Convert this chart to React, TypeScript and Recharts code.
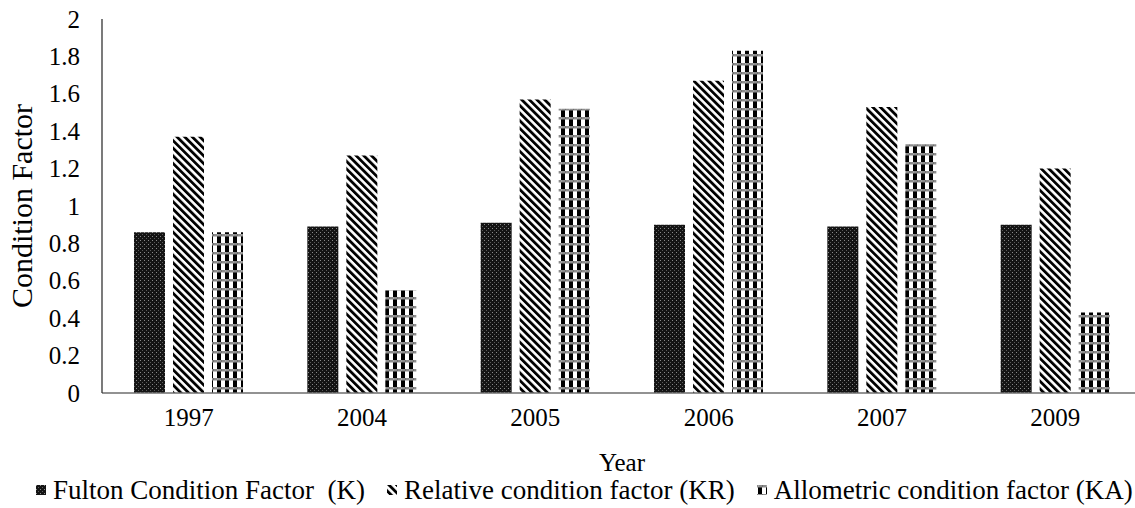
import { BarChart, Bar, XAxis, YAxis } from 'recharts';

const years = ['1997', '2004', '2005', '2006', '2007', '2009'];
const fulton = [0.86, 0.89, 0.91, 0.9, 0.89, 0.9];
const relative = [1.37, 1.27, 1.57, 1.67, 1.53, 1.2];
const allometric = [0.86, 0.55, 1.52, 1.83, 1.33, 0.43];
const yTicks = [0, 0.2, 0.4, 0.6, 0.8, 1, 1.2, 1.4, 1.6, 1.8, 2];

const SERIES = [
  { key: 'k', name: 'Fulton Condition Factor  (K)', fill: 'url(#patK)' },
  { key: 'kr', name: 'Relative condition factor (KR)', fill: 'url(#patKR)' },
  { key: 'ka', name: 'Allometric condition factor (KA)', fill: 'url(#patKA)' },
];

const FONT = "'Times New Roman', Tinos, 'Liberation Serif', 'DejaVu Serif', serif";

const data = years.map((year, i) => ({
  year,
  k: fulton[i],
  kr: relative[i],
  ka: allometric[i],
}));

function XTick({ x, y, payload }: any) {
  return (
    <text x={x} y={y + 16} textAnchor="middle" dominantBaseline="central"
      fontSize={25} style={{ fontFamily: FONT }} fill="#000">
      {payload.value}
    </text>
  );
}

function YTick({ y, payload }: any) {
  return (
    <text x={80} y={y} textAnchor="end" dominantBaseline="central"
      fontSize={25} style={{ fontFamily: FONT }} fill="#000">
      {payload.value}
    </text>
  );
}

function YLabel({ viewBox }: any) {
  const cx = 21;
  const cy = viewBox.y + viewBox.height / 2;
  return (
    <text x={cx} y={cy} transform={`rotate(-90, ${cx}, ${cy})`} textAnchor="middle"
      dominantBaseline="central" fontSize={30} style={{ fontFamily: FONT }} fill="#000">
      Condition Factor
    </text>
  );
}

function XLabel({ viewBox }: any) {
  const cx = viewBox.x + viewBox.width / 2;
  return (
    <text x={cx} y={viewBox.y + 69} textAnchor="middle" dominantBaseline="central"
      fontSize={25} style={{ fontFamily: FONT }} fill="#000">
      Year
    </text>
  );
}

export default function App() {
  return (
    <div style={{ position: 'absolute', left: 0, top: 0, width: 1135, height: 508, background: '#fff', overflow: 'hidden', fontFamily: FONT }}>
      <BarChart width={1135} height={508} data={data} barSize={31} barGap={8}
        margin={{ top: 19, right: -7, left: 0, bottom: 33 }}>
        <defs>
          <pattern id="patK" patternUnits="userSpaceOnUse" width={4} height={4}>
            <rect width={4} height={4} fill="#141414" />
            <rect x={0} y={0} width={1} height={1} fill="#8a8a8a" />
            <rect x={2} y={2} width={1} height={1} fill="#5a5a5a" />
          </pattern>
          <pattern id="patKR" patternUnits="userSpaceOnUse" width={5.4} height={5.4} patternTransform="rotate(-45)">
            <rect width={5.4} height={5.4} fill="#fff" />
            <rect x={0} y={0} width={2.8} height={5.4} fill="#000" />
          </pattern>
          <pattern id="patKA" patternUnits="userSpaceOnUse" width={8} height={9}>
            <rect width={8} height={9} fill="#fff" />
            <rect x={1} y={0} width={4} height={9} fill="#000" />
            <rect x={0} y={0} width={8} height={2.5} fill="#8c8c8c" />
            <rect x={1} y={0.5} width={1} height={1} fill="#bbb" />
            <rect x={5} y={0.5} width={1} height={1} fill="#555" />
          </pattern>
        </defs>
        <XAxis dataKey="year" height={82} tickLine={false} tick={<XTick />}
          axisLine={{ stroke: '#6e6e6e', strokeWidth: 1.5 }}
          label={<XLabel />} />
        <YAxis width={102} domain={[0, 2]} ticks={yTicks} interval={0} tickLine={false}
          tick={<YTick />}
          axisLine={{ stroke: '#333', strokeWidth: 1.3 }}
          label={<YLabel />} />
        {SERIES.map(s => (
          <Bar key={s.key} dataKey={s.key} name={s.name} fill={s.fill} isAnimationActive={false} />
        ))}
      </BarChart>
      <div style={{
        position: 'absolute', left: 36, top: 475, display: 'flex', alignItems: 'center',
        fontFamily: FONT, fontSize: 27, color: '#000', whiteSpace: 'pre', lineHeight: '30px',
      }}>
        {SERIES.map((s, i) => (
          <div key={s.key} style={{ display: 'flex', alignItems: 'center', marginRight: i < 2 ? 22 : 0 }}>
            <svg width={10} height={10} style={{ marginRight: 7 }}>
              <rect width={10} height={10} fill={s.fill} />
            </svg>
            <span>{s.name}</span>
          </div>
        ))}
      </div>
    </div>
  );
}
